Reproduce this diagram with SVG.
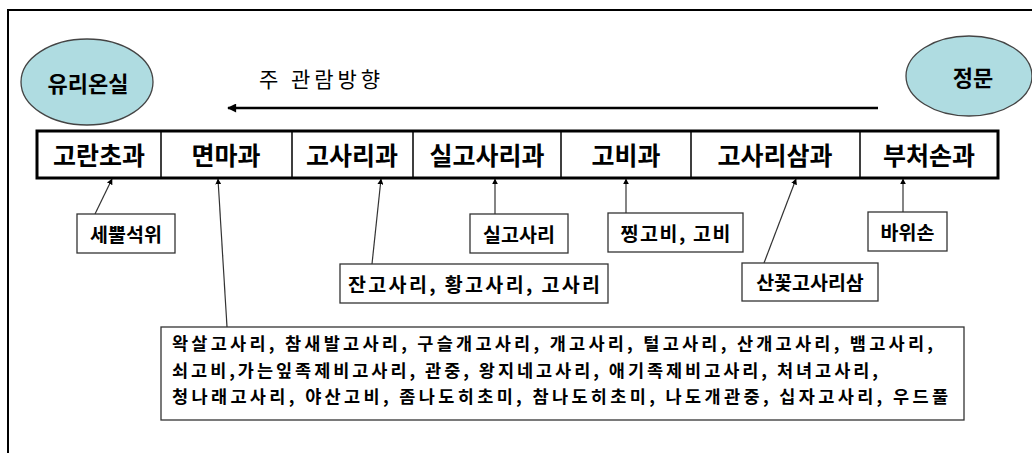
<svg xmlns="http://www.w3.org/2000/svg" width="1032" height="453" viewBox="0 0 1032 453">
<defs>
<style>
text{font-family:"Noto Sans CJK KR","Noto Sans",sans-serif;fill:#000;dominant-baseline:central}
.cat{font-size:25px;font-weight:bold;text-anchor:middle}
.lbl{font-size:19.5px;font-weight:bold;text-anchor:middle}
.big{font-size:17.5px;font-weight:bold}
.box{fill:#fff;stroke:#333;stroke-width:1.3}
.ell{fill:#afdce1;stroke:#444;stroke-width:1.3}
.con{stroke:#333;stroke-width:1.2;fill:none;marker-end:url(#ah)}
</style>
<marker id="ah" viewBox="0 0 10 10" refX="9" refY="5" markerWidth="6" markerHeight="6" markerUnits="userSpaceOnUse" orient="auto"><path d="M0,0L10,5L0,10z" fill="#000"/></marker>
<marker id="big" viewBox="0 0 10 10" refX="9" refY="5" markerWidth="11" markerHeight="9" markerUnits="userSpaceOnUse" orient="auto"><path d="M0,0L10,5L0,10z" fill="#000"/></marker>
</defs>
<rect x="0" y="0" width="1032" height="453" fill="#fff"/>
<rect x="8" y="10" width="1040" height="460" fill="none" stroke="#000" stroke-width="2"/>

<g id="greenhouse"><ellipse class="ell" cx="87" cy="82" rx="66" ry="43"/><text x="88" y="82" font-size="22" font-weight="bold" text-anchor="middle">유리온실</text></g>
<g id="gate"><ellipse class="ell" cx="969" cy="76" rx="63" ry="40"/><text x="973" y="76" font-size="22" font-weight="bold" text-anchor="middle">정문</text></g>
<g id="direction"><text x="259" y="78" font-size="21" textLength="121" lengthAdjust="spacing">주 관람방향</text></g>

<g id="families">
<rect x="37" y="131" width="961" height="47" fill="#fff" stroke="#000" stroke-width="3"/>
<path d="M161,131V178M292,131V178M413,131V178M561,131V178M691,131V178M860,131V178" stroke="#000" stroke-width="1.5"/>
<text class="cat" x="99" y="154">고란초과</text>
<text class="cat" x="226" y="154">면마과</text>
<text class="cat" x="352" y="154">고사리과</text>
<text class="cat" x="487" y="154">실고사리과</text>
<text class="cat" x="626" y="154">고비과</text>
<text class="cat" x="775" y="154">고사리삼과</text>
<text class="cat" x="929" y="154">부처손과</text>
</g>

<g id="connectors">
<line class="con" x1="95" y1="214" x2="112" y2="179"/>
<line class="con" x1="227" y1="327" x2="218" y2="179"/>
<line class="con" x1="372" y1="264" x2="381" y2="179"/>
<line class="con" x1="495" y1="214" x2="495" y2="179"/>
<line class="con" x1="626" y1="213" x2="626" y2="179"/>
<line class="con" x1="764" y1="263" x2="796" y2="179"/>
<line class="con" x1="903" y1="212" x2="903" y2="179"/>
<line x1="878" y1="108" x2="228" y2="108" stroke="#000" stroke-width="2.5" marker-end="url(#big)"/>
</g>

<g id="n-sebbul"><rect class="box" x="77" y="214" width="98" height="39"/><text class="lbl" x="126" y="233">세뿔석위</text></g>
<g id="n-silgosari"><rect class="box" x="470" y="214" width="98" height="39"/><text class="lbl" x="519" y="233">실고사리</text></g>
<g id="n-gobi"><rect class="box" x="608" y="213" width="135" height="39"/><text class="lbl" x="675.5" y="232" textLength="110" lengthAdjust="spacing">찡고비, 고비</text></g>
<g id="n-gosari"><rect class="box" x="340" y="264" width="268" height="39"/><text class="lbl" x="474" y="283" textLength="252" lengthAdjust="spacing">잔고사리, 황고사리, 고사리</text></g>
<g id="n-gosarisam"><rect class="box" x="742" y="263" width="136" height="38"/><text class="lbl" x="810" y="281.5">산꽃고사리삼</text></g>
<g id="n-bawison"><rect class="box" x="868" y="212" width="79" height="39"/><text class="lbl" x="907.5" y="231">바위손</text></g>

<g id="n-myeonma"><rect class="box" x="161" y="327" width="803" height="93"/>
<text class="big" x="172" y="342.5" textLength="761" lengthAdjust="spacing">왁살고사리, 참새발고사리, 구슬개고사리, 개고사리, 털고사리, 산개고사리, 뱀고사리,</text>
<text class="big" x="172" y="369" textLength="706" lengthAdjust="spacing">쇠고비,가는잎족제비고사리, 관중, 왕지네고사리, 애기족제비고사리, 처녀고사리,</text>
<text class="big" x="172" y="395" textLength="776" lengthAdjust="spacing">청나래고사리, 야산고비, 좀나도히초미, 참나도히초미, 나도개관중, 십자고사리, 우드풀</text>
</g>
</svg>
